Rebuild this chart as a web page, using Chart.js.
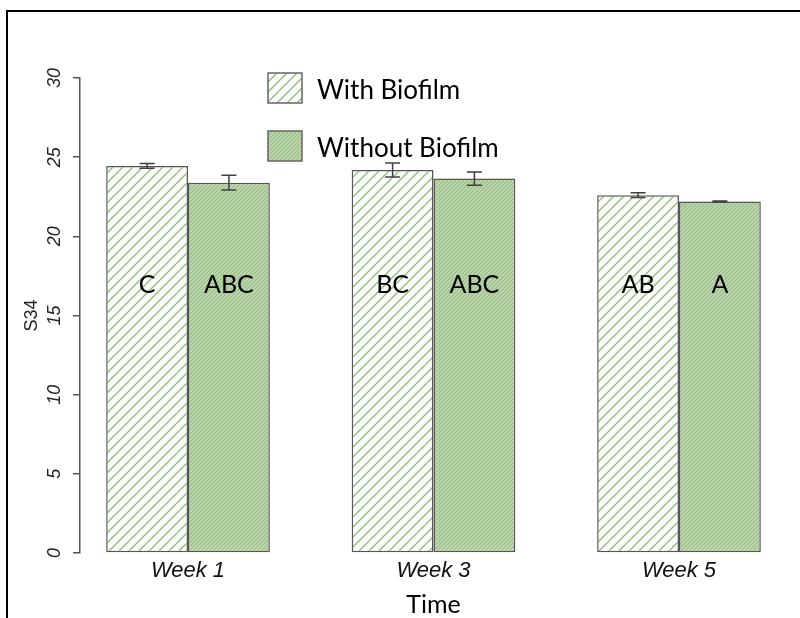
<!DOCTYPE html>
<html>
<head>
<meta charset="utf-8">
<script src="https://cdn.jsdelivr.net/npm/chart.js@4.4.1/dist/chart.umd.min.js"></script>
<style>
  html, body { margin: 0; padding: 0; background: #fff; }
  #wrap { position: relative; width: 800px; height: 618px; overflow: hidden; }
  #frame {
    position: absolute; left: 6px; top: 10px; width: 800px; height: 620px;
    border-left: 2px solid #000; border-top: 2px solid #000;
    pointer-events: none;
  }
  canvas { position: absolute; left: 0; top: 0; }
</style>
</head>
<body>
<div id="wrap">
  <canvas id="chart" width="800" height="618"></canvas>
  <div id="frame"></div>
</div>
<script>
// Chart data
const weeks = ['Week 1', 'Week 3', 'Week 5'];
const seriesNames = ['With Biofilm', 'Without Biofilm'];
const withBiofilm = [24.45, 24.19, 22.6];
const withoutBiofilm = [23.39, 23.65, 22.2];
const errWith = [0.15, 0.44, 0.15];
const errWithout = [0.47, 0.42, 0.03];
const lettersWith = ['C', 'BC', 'AB'];
const lettersWithout = ['ABC', 'ABC', 'A'];
const yTicks = [0, 5, 10, 15, 20, 25, 30];

const axisGrey = '#555555';
const letterLevel = 16.9;

// R barplot style positions: bars are 1 unit wide, groups separated by 1 unit
const groupX = i => 2 + 3 * i;

// Hatch patterns
function makeHatch(size, bg, line, width) {
    const c = document.createElement('canvas');
    c.width = size;
    c.height = size;
    const g = c.getContext('2d');
    g.fillStyle = bg;
    g.fillRect(0, 0, size, size);
    g.strokeStyle = line;
    g.lineWidth = width;
    g.beginPath();
    g.moveTo(-1, size + 1); g.lineTo(size + 1, -1);
    g.moveTo(-1, 1); g.lineTo(1, -1);
    g.moveTo(size - 1, size + 1); g.lineTo(size + 1, size - 1);
    g.stroke();
    return g.createPattern(c, 'repeat');
}
const hatchWith = makeHatch(10, '#ffffff', '#8dbf78', 1.4);
const hatchWithout = makeHatch(4, '#b8d5a8', '#8fbb7c', 1);

const errorBars = {
    id: 'errorBars',
    afterDatasetsDraw(chart) {
        const ctx = chart.ctx;
        const y = chart.scales.y;
        const errs = [errWith, errWithout];
        ctx.save();
        ctx.strokeStyle = '#404040';
        ctx.lineWidth = 1.5;
        chart.data.datasets.forEach((ds, di) => {
            chart.getDatasetMeta(di).data.forEach((bar, i) => {
                const v = ds.data[i].y;
                const top = y.getPixelForValue(v + errs[di][i]);
                const bot = y.getPixelForValue(v - errs[di][i]);
                ctx.beginPath();
                ctx.moveTo(bar.x, top); ctx.lineTo(bar.x, bot);
                ctx.moveTo(bar.x - 7.5, top); ctx.lineTo(bar.x + 7.5, top);
                ctx.moveTo(bar.x - 7.5, bot); ctx.lineTo(bar.x + 7.5, bot);
                ctx.stroke();
            });
        });
        ctx.restore();
    }
};

const annotations = {
    id: 'annotations',
    afterDraw(chart) {
        const ctx = chart.ctx;
        const y = chart.scales.y;
        const area = chart.chartArea;
        ctx.save();

        // letters inside the bars
        const letters = [lettersWith, lettersWithout];
        ctx.fillStyle = '#000';
        ctx.font = '25px Lato';
        ctx.textAlign = 'center';
        ctx.textBaseline = 'middle';
        chart.data.datasets.forEach((ds, di) => {
            chart.getDatasetMeta(di).data.forEach((bar, i) => {
                ctx.fillText(letters[di][i], bar.x, y.getPixelForValue(letterLevel));
            });
        });

        // rotated y tick labels, R style
        ctx.fillStyle = '#222';
        ctx.font = 'italic 18px "Liberation Sans"';
        yTicks.forEach(v => {
            ctx.save();
            ctx.translate(55, y.getPixelForValue(v));
            ctx.rotate(-Math.PI / 2);
            ctx.fillText(String(v), 0, 0);
            ctx.restore();
        });

        // y axis title
        ctx.font = '18px "Liberation Sans"';
        ctx.save();
        ctx.translate(32, (area.top + area.bottom) / 2);
        ctx.rotate(-Math.PI / 2);
        ctx.fillText('S34', 0, 0);
        ctx.restore();

        // legend inside the plot
        const boxes = [hatchWith, hatchWithout];
        const rows = [88, 146];
        ctx.textAlign = 'left';
        ctx.font = '26px Lato';
        seriesNames.forEach((name, k) => {
            ctx.fillStyle = boxes[k];
            ctx.fillRect(268, rows[k] - 15, 34, 30);
            ctx.strokeStyle = '#666';
            ctx.lineWidth = 1.5;
            ctx.strokeRect(268, rows[k] - 15, 34, 30);
            ctx.fillStyle = '#000';
            ctx.fillText(name, 317, rows[k] + 3);
        });
        ctx.restore();
    }
};

new Chart(document.getElementById('chart'), {
    type: 'bar',
    data: {
        datasets: [
            {
                label: seriesNames[0],
                data: withBiofilm.map((v, i) => ({ x: groupX(i), y: v })),
                backgroundColor: hatchWith,
                borderColor: axisGrey,
                borderWidth: 1.5,
                borderSkipped: false
            },
            {
                label: seriesNames[1],
                data: withoutBiofilm.map((v, i) => ({ x: groupX(i), y: v })),
                backgroundColor: hatchWithout,
                borderColor: axisGrey,
                borderWidth: 1.5,
                borderSkipped: false
            }
        ]
    },
    options: {
        responsive: false,
        animation: false,
        devicePixelRatio: 1,
        categoryPercentage: 2 / 3,
        barPercentage: 1,
        layout: { padding: { left: 0, top: 78, right: 13, bottom: 0 } },
        plugins: {
            legend: { display: false },
            tooltip: { enabled: false }
        },
        scales: {
            x: {
                type: 'linear',
                min: 0.68,
                max: 9.32,
                offset: false,
                grid: { display: false, drawTicks: false },
                border: { display: false },
                afterBuildTicks: axis => {
                    axis.ticks = weeks.map((w, i) => ({ value: groupX(i) }));
                },
                afterFit: scale => { scale.height = 65; },
                ticks: {
                    autoSkip: false,
                    maxRotation: 0,
                    padding: 5,
                    color: '#111',
                    font: { family: '"Liberation Sans"', size: 22, style: 'italic' },
                    callback: (value, index) => weeks[index]
                },
                title: {
                    display: true,
                    text: 'Time',
                    color: '#000',
                    font: { family: 'Lato', size: 25 },
                    padding: { top: 0, bottom: -2 }
                }
            },
            y: {
                min: 0,
                max: 30,
                ticks: { display: false, stepSize: 5 },
                grid: {
                    drawOnChartArea: false,
                    drawTicks: true,
                    tickLength: 7,
                    color: axisGrey,
                    lineWidth: 1.5
                },
                border: { display: true, color: axisGrey, width: 1.5 },
                afterFit: scale => { scale.width = 80; }
            }
        }
    },
    plugins: [errorBars, annotations]
});
</script>
</body>
</html>
